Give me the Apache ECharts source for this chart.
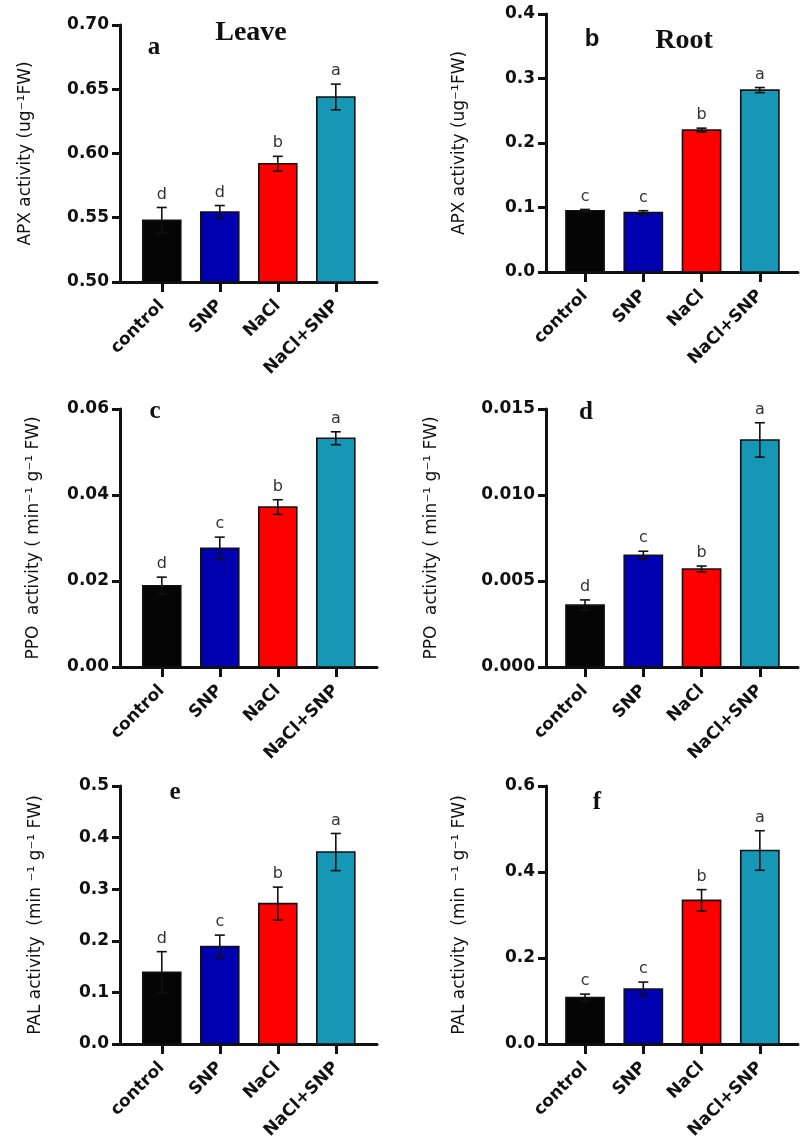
<!DOCTYPE html>
<html>
<head>
<meta charset="utf-8">
<script src="https://cdn.jsdelivr.net/npm/echarts@6/dist/echarts.min.js"></script>
<style>
html,body{margin:0;padding:0;background:#fff;}
#chart{width:800px;height:1144px;}
</style>
</head>
<body>
<div id="chart"></div>
<script>
// ---- data ----
var categories = ['control', 'SNP', 'NaCl', 'NaCl+SNP'];

var apxLeave = [0.548, 0.5545, 0.592, 0.644];
var apxLeaveSE = [0.010, 0.005, 0.0058, 0.010];
var apxLeaveSig = ['d', 'd', 'b', 'a'];

var apxRoot = [0.095, 0.092, 0.220, 0.282];
var apxRootSE = [0.002, 0.003, 0.003, 0.004];
var apxRootSig = ['c', 'c', 'b', 'a'];

var ppoLeave = [0.0189, 0.0276, 0.0372, 0.0532];
var ppoLeaveSE = [0.0020, 0.0026, 0.0017, 0.0015];
var ppoLeaveSig = ['d', 'c', 'b', 'a'];

var ppoRoot = [0.0036, 0.0065, 0.0057, 0.0132];
var ppoRootSE = [0.0003, 0.00023, 0.00017, 0.0010];
var ppoRootSig = ['d', 'c', 'b', 'a'];

var palLeave = [0.139, 0.189, 0.272, 0.372];
var palLeaveSE = [0.040, 0.022, 0.032, 0.036];
var palLeaveSig = ['d', 'c', 'b', 'a'];

var palRoot = [0.108, 0.128, 0.334, 0.450];
var palRootSE = [0.008, 0.016, 0.025, 0.046];
var palRootSig = ['c', 'c', 'b', 'a'];

var barColors = ['#050505', '#0000b0', '#ff0000', '#1597b5'];

// ---- panels ----
var panels = [
  {grid:{left:120, top:25, width:257, height:257}, vals:apxLeave, se:apxLeaveSE, sig:apxLeaveSig,
   yMin:0.5, yMax:0.7, yInt:0.05, dec:2, xMin:-0.72, xMax:3.71,
   name:'APX activity (ug\u207B\u00B9FW)', nameGap:86},
  {grid:{left:546, top:14, width:252, height:258}, vals:apxRoot, se:apxRootSE, sig:apxRootSig,
   yMin:0, yMax:0.4, yInt:0.1, dec:1, xMin:-0.67, xMax:3.655,
   name:'APX activity (ug\u207B\u00B9FW)', nameGap:78},
  {grid:{left:120, top:409, width:257, height:258}, vals:ppoLeave, se:ppoLeaveSE, sig:ppoLeaveSig,
   yMin:0, yMax:0.06, yInt:0.02, dec:2, xMin:-0.72, xMax:3.71,
   name:'PPO  activity ( min\u207B\u00B9 g\u207B\u00B9 FW)', nameGap:78},
  {grid:{left:546, top:409, width:252, height:258}, vals:ppoRoot, se:ppoRootSE, sig:ppoRootSig,
   yMin:0, yMax:0.015, yInt:0.005, dec:3, xMin:-0.67, xMax:3.655,
   name:'PPO  activity ( min\u207B\u00B9 g\u207B\u00B9 FW)', nameGap:106},
  {grid:{left:120, top:786, width:257, height:258}, vals:palLeave, se:palLeaveSE, sig:palLeaveSig,
   yMin:0, yMax:0.5, yInt:0.1, dec:1, xMin:-0.72, xMax:3.71,
   name:'PAL activity  (min \u207B\u00B9 g\u207B\u00B9 FW)', nameGap:76},
  {grid:{left:546, top:786, width:252, height:258}, vals:palRoot, se:palRootSE, sig:palRootSig,
   yMin:0, yMax:0.6, yInt:0.2, dec:1, xMin:-0.67, xMax:3.655,
   name:'PAL activity  (min \u207B\u00B9 g\u207B\u00B9 FW)', nameGap:78}
];

var axisColor = '#111';
var grids = [], xAxes = [], yAxes = [], series = [];

panels.forEach(function (p, k) {
  grids.push(p.grid);
  xAxes.push({
    type: 'value', gridIndex: k, min: p.xMin, max: p.xMax,
    splitLine: {show: false},
    axisLine: {show: true, onZero: false, lineStyle: {color: axisColor, width: 3}},
    axisTick: {show: true, length: 10, lineStyle: {color: axisColor, width: 3}, customValues: [0, 1, 2, 3]},
    axisLabel: {
      customValues: [0, 1, 2, 3], rotate: 45, margin: 21,
      fontFamily: 'DejaVu Sans', fontWeight: 'bold', fontSize: 17, color: '#111',
      formatter: function (v) { return categories[Math.round(v)]; }
    }
  });
  yAxes.push({
    type: 'value', gridIndex: k, min: p.yMin, max: p.yMax, interval: p.yInt,
    splitLine: {show: false},
    axisLine: {show: true, onZero: false, lineStyle: {color: axisColor, width: 3}},
    axisTick: {show: true, length: 8, lineStyle: {color: axisColor, width: 3}},
    axisLabel: {
      margin: 11, fontFamily: 'DejaVu Sans', fontWeight: 'bold', fontSize: 17, color: '#111',
      formatter: (function (d) { return function (v) { return v.toFixed(d); }; })(p.dec)
    },
    name: p.name, nameLocation: 'middle', nameRotate: 90, nameGap: p.nameGap,
    nameTextStyle: {fontFamily: 'DejaVu Sans', fontSize: 17, color: '#111'}
  });
  var data = categories.map(function (c, i) { return [i, p.vals[i], p.se[i]]; });
  series.push({
    type: 'custom', xAxisIndex: k, yAxisIndex: k, data: data,
    encode: {x: 0, y: 1},
    z: 1,
    renderItem: (function (p) {
      return function (params, api) {
        var i = api.value(0), v = api.value(1), e = api.value(2);
        var base = api.coord([i, p.yMin]);
        var top = api.coord([i, v]);
        var hi = api.coord([i, v + e]);
        var lo = api.coord([i, v - e]);
        var bw = api.size([0.655, 0])[0];
        var cap = 5;
        return {
          type: 'group',
          children: [
            {type: 'rect', shape: {x: top[0] - bw / 2, y: top[1], width: bw, height: base[1] - top[1]},
             style: {fill: barColors[params.dataIndex], stroke: '#111', lineWidth: 1.6}},
            {type: 'line', shape: {x1: hi[0], y1: hi[1], x2: lo[0], y2: lo[1]},
             style: {stroke: '#111', lineWidth: 1.6}},
            {type: 'line', shape: {x1: hi[0] - cap, y1: hi[1], x2: hi[0] + cap, y2: hi[1]},
             style: {stroke: '#111', lineWidth: 1.6}},
            {type: 'line', shape: {x1: lo[0] - cap, y1: lo[1], x2: lo[0] + cap, y2: lo[1]},
             style: {stroke: '#111', lineWidth: 1.6}},
            {type: 'text', x: hi[0], y: hi[1] - 5,
             style: {text: p.sig[params.dataIndex], textAlign: 'center', textVerticalAlign: 'bottom',
                     font: '16px "DejaVu Sans"', fill: '#333'}}
          ]
        };
      };
    })(p)
  });
});

var serifBold = function (s) { return 'bold ' + s + 'px "Liberation Serif"'; };
var graphics = [
  {type: 'text', x: 251, y: 33, style: {text: 'Leave', font: serifBold(28), fill: '#111', textAlign: 'center', textVerticalAlign: 'middle'}},
  {type: 'text', x: 154, y: 48, style: {text: 'a', font: serifBold(25), fill: '#111', textAlign: 'center', textVerticalAlign: 'middle'}},
  {type: 'text', x: 684, y: 41, style: {text: 'Root', font: serifBold(28), fill: '#111', textAlign: 'center', textVerticalAlign: 'middle'}},
  {type: 'text', x: 592, y: 39, style: {text: 'b', font: 'bold 24px "Liberation Sans"', fill: '#111', textAlign: 'center', textVerticalAlign: 'middle'}},
  {type: 'text', x: 155, y: 412, style: {text: 'c', font: serifBold(25), fill: '#111', textAlign: 'center', textVerticalAlign: 'middle'}},
  {type: 'text', x: 586, y: 413, style: {text: 'd', font: serifBold(25), fill: '#111', textAlign: 'center', textVerticalAlign: 'middle'}},
  {type: 'text', x: 175, y: 793, style: {text: 'e', font: serifBold(25), fill: '#111', textAlign: 'center', textVerticalAlign: 'middle'}},
  {type: 'text', x: 597, y: 803, style: {text: 'f', font: serifBold(25), fill: '#111', textAlign: 'center', textVerticalAlign: 'middle'}}
];

var chart = echarts.init(document.getElementById('chart'), null, {renderer: 'canvas'});
chart.setOption({
  backgroundColor: '#fff',
  animation: false,
  grid: grids,
  xAxis: xAxes,
  yAxis: yAxes,
  series: series,
  graphic: graphics
});
</script>
</body>
</html>
